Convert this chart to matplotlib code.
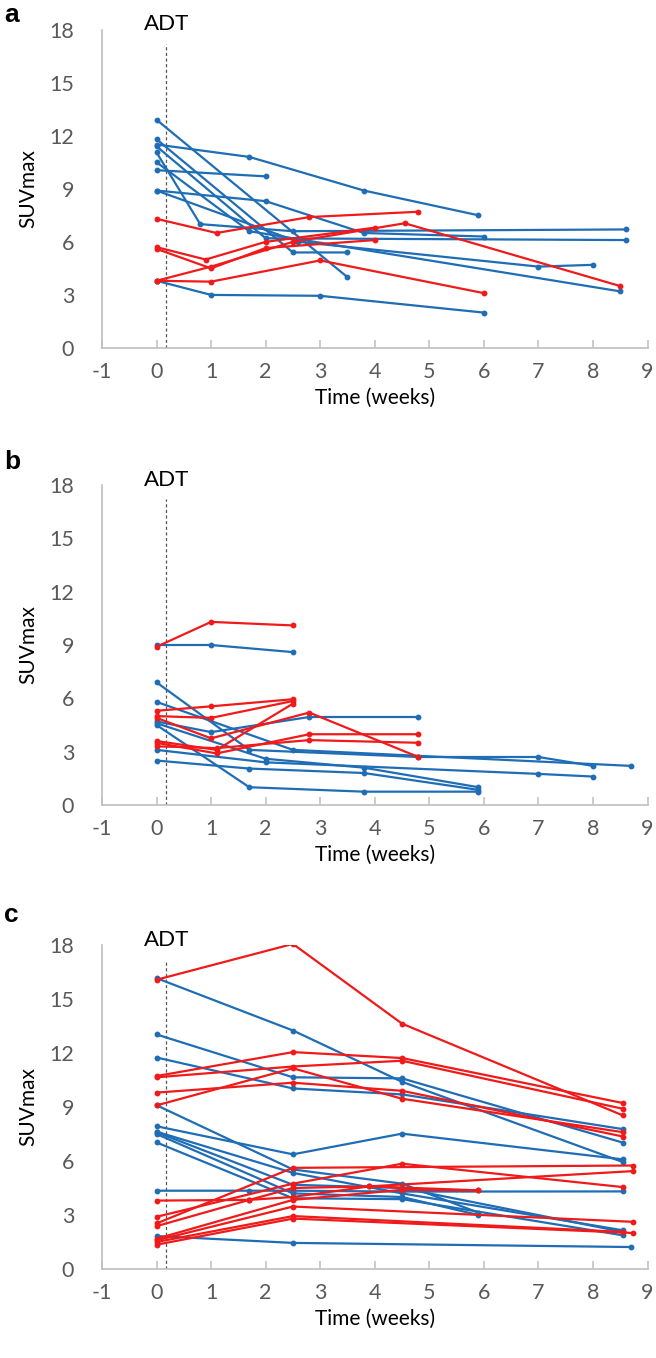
import matplotlib
matplotlib.use("Agg")
import matplotlib.pyplot as plt

plt.rcParams["axes.unicode_minus"] = False

# ---------------- data ----------------
x_ticks = [-1, 0, 1, 2, 3, 4, 5, 6, 7, 8, 9]
y_ticks = [0, 3, 6, 9, 12, 15, 18]
panel_labels = ["a", "b", "c"]
adt_week = 0.18

# panel a
a_blue_x = [
    [0, 3.5],
    [0, 2.5, 3.5],
    [0, 1.7, 3.8, 5.9],
    [0, 0.8, 2.5, 8.6],
    [0, 1.7, 8.5],
    [0, 2.0],
    [0, 2.0, 3.8, 6.0],
    [0, 2.6, 7.0, 8.0],
    [0, 2.0, 8.6],
    [0, 1.0, 3.0, 6.0],
]
a_blue_y = [
    [12.9, 4.0],
    [11.8, 5.4, 5.4],
    [11.5, 10.8, 8.9, 7.5],
    [11.05, 7.0, 6.6, 6.7],
    [10.5, 6.6, 3.2],
    [10.05, 9.7],
    [8.9, 8.3, 6.5, 6.3],
    [8.9, 6.0, 4.6, 4.7],
    [11.4, 6.2, 6.1],
    [3.8, 3.0, 2.95, 2.0],
]
a_red_x = [
    [0, 1.1, 2.8, 4.8],
    [0, 1.0, 3.0, 6.0],
    [0, 1.0, 2.0, 4.0],
    [0, 0.9, 2.0, 4.0],
    [0, 1.0, 2.5, 4.55, 8.5],
]
a_red_y = [
    [7.3, 6.5, 7.4, 7.7],
    [3.8, 3.75, 4.95, 3.1],
    [5.6, 4.5, 5.65, 6.1],
    [5.7, 5.0, 6.0, 6.8],
    [3.8, 4.6, 6.0, 7.05, 3.5],
]

# panel b
b_blue_x = [
    [0, 1.0, 2.5],
    [0, 1.7, 4.8, 7.0, 8.0],
    [0, 2.5, 8.7],
    [0, 1.0, 2.8, 4.8],
    [0, 2.0, 3.8, 5.9],
    [0, 1.7, 3.8, 5.9],
    [0, 2.0, 7.0, 8.0],
    [0, 1.7, 3.8, 5.9],
]
b_blue_y = [
    [9.0, 9.0, 8.6],
    [6.9, 3.1, 2.7, 2.7, 2.2],
    [5.8, 3.1, 2.2],
    [4.7, 4.1, 4.95, 4.95],
    [4.6, 2.6, 2.1, 1.0],
    [4.5, 1.0, 0.75, 0.75],
    [3.1, 2.4, 1.75, 1.6],
    [2.5, 2.05, 1.8, 0.85],
]
b_red_x = [
    [0, 1.0, 2.5],
    [0, 1.0, 2.5],
    [0, 1.0, 2.5],
    [0, 1.0, 2.8, 4.8],
    [0, 1.1, 2.5],
    [0, 1.1, 2.8, 4.8],
    [0, 1.1, 2.8, 4.8],
]
b_red_y = [
    [8.9, 10.3, 10.1],
    [5.3, 5.55, 5.95],
    [5.0, 4.9, 5.85],
    [4.9, 3.75, 5.2, 2.7],
    [3.6, 3.1, 5.7],
    [3.5, 2.9, 3.98, 3.98],
    [3.3, 3.2, 3.65, 3.5],
]

# panel c
c_blue_x = [
    [0, 2.5, 4.5, 8.55],
    [0, 2.5, 4.5, 8.55],
    [0, 2.5, 4.5, 8.55],
    [0, 2.5, 4.5, 5.9],
    [0, 2.5, 4.5, 8.55],
    [0, 2.5, 4.5, 8.55],
    [0, 2.5, 4.5, 5.9],
    [0, 2.5, 4.5, 8.55],
    [0, 1.7, 2.5, 4.5, 8.55],
    [0, 2.5, 8.7],
    [0, 2.5, 4.5, 8.55],
]
c_blue_y = [
    [16.16, 13.25, 10.4, 5.94],
    [13.03, 10.65, 10.59, 7.02],
    [11.75, 10.03, 9.7, 7.77],
    [9.1, 5.53, 4.74, 3.13],
    [7.93, 6.37, 7.52, 6.09],
    [7.63, 5.34, 4.2, 2.15],
    [7.5, 4.2, 4.0, 3.0],
    [7.03, 3.93, 3.88, 1.87],
    [4.35, 4.35, 4.35, 4.3, 4.31],
    [1.83, 1.45, 1.22],
    [7.6, 4.68, 4.5, 2.06],
]
c_red_x = [
    [0, 2.5, 4.5, 8.55],
    [0, 2.5, 4.5, 8.55],
    [0, 2.5, 4.5, 8.55],
    [0, 2.5, 4.5, 8.55],
    [0, 2.5, 4.5, 8.55],
    [0, 1.7, 2.5, 3.9, 5.9],
    [0, 2.5, 4.5, 8.55],
    [0, 2.5, 8.74],
    [0, 1.7, 2.5, 3.9, 8.74],
    [0, 2.5, 4.5, 5.9],
    [0, 2.5, 8.74],
    [0, 2.5, 8.55],
    [0, 2.5, 8.74],
]
c_red_y = [
    [16.07, 18.06, 13.63, 8.53],
    [10.72, 12.05, 11.72, 9.22],
    [10.65, 11.25, 11.57, 8.9],
    [9.8, 10.35, 9.9, 7.36],
    [9.09, 11.15, 9.46, 7.6],
    [3.8, 3.84, 4.0, 4.59, 4.37],
    [2.9, 4.74, 5.85, 4.55],
    [2.53, 5.62, 5.75],
    [2.38, 3.84, 4.5, 4.59, 5.44],
    [1.68, 3.84, 4.4, 4.37],
    [1.59, 3.47, 2.62],
    [1.5, 2.94, 2.06],
    [1.35, 2.8, 2.0],
]

panels = [
    (a_blue_x, a_blue_y, a_red_x, a_red_y),
    (b_blue_x, b_blue_y, b_red_x, b_red_y),
    (c_blue_x, c_blue_y, c_red_x, c_red_y),
]

# ---------------- style ----------------
BLUE = "#1F6DB5"
RED = "#F01A1A"
GRID_GRAY = "#BFBFBF"
TICK_GRAY = "#595959"
FONT = ["Lato", "DejaVu Sans"]

W, H = 656, 1358
fig = plt.figure(figsize=(W / 100, H / 100), dpi=100)

# pixel positions (top of y=18, bottom of y=0) for each panel
left_px, right_px = 102, 647.5
tops = [29.5, 485, 945]
bottoms = [348, 805, 1269]
label_y = [15, 462, 915]

for i, (bx, by, rx, ry) in enumerate(panels):
    top, bot = tops[i], bottoms[i]
    ax = fig.add_axes([left_px / W, 1 - bot / H, (right_px - left_px) / W, (bot - top) / H])
    for xs, ys in zip(bx, by):
        ax.plot(xs, ys, color=BLUE, lw=1.6, marker="o", ms=3.2, zorder=3)
    for xs, ys in zip(rx, ry):
        ax.plot(xs, ys, color=RED, lw=1.6, marker="o", ms=3.2, zorder=3)
    ax.axvline(adt_week, ymin=0, ymax=0.955, color="#555555", lw=0.9, ls=(0, (2.5, 2)), zorder=2)
    ax.set_xlim(-1, 9)
    ax.set_ylim(0, 18)
    ax.set_xticks(x_ticks)
    ax.set_yticks(y_ticks)
    for s in ["top", "right"]:
        ax.spines[s].set_visible(False)
    for s in ["left", "bottom"]:
        ax.spines[s].set_color(GRID_GRAY)
        ax.spines[s].set_linewidth(1.2)
    ax.tick_params(axis="x", direction="in", length=6, width=1.1, color=GRID_GRAY,
                   labelcolor=TICK_GRAY, labelsize=15.5, pad=10)
    ax.tick_params(axis="y", length=0, labelcolor=TICK_GRAY, labelsize=15.5, pad=20)
    for lab in ax.get_xticklabels() + ax.get_yticklabels():
        lab.set_family(FONT)
    ax.set_xlabel("Time (weeks)", fontsize=15, family=FONT, color="black", labelpad=4)
    ax.set_ylabel("SUVmax", fontsize=15, family=FONT, color="black", labelpad=8)
    ax.text(adt_week, 18.3, "ADT", ha="center", va="center", fontsize=16,
            family=FONT, color="black", clip_on=False)
    fig.text(4 / W, 1 - label_y[i] / H, panel_labels[i], fontsize=19, fontweight="bold",
             family=["Liberation Sans", "DejaVu Sans"], va="center", ha="left")

fig.savefig("out.png", dpi=100)
